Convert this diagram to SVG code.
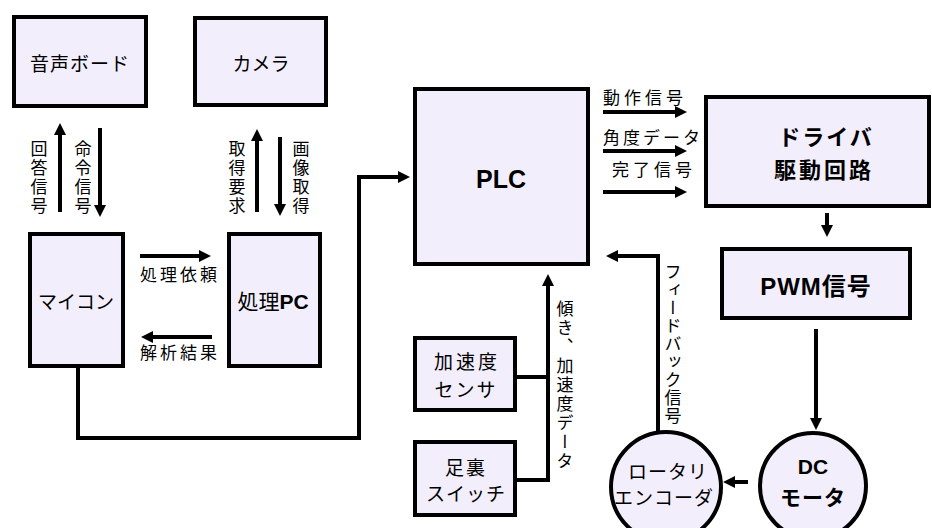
<svg xmlns="http://www.w3.org/2000/svg" width="932" height="528" viewBox="0 0 932 528">
<defs>
<marker id="ah" viewBox="0 0 12 12" markerWidth="12" markerHeight="12" refX="1" refY="6" orient="auto" markerUnits="userSpaceOnUse">
<path d="M0,0 L12,6 L0,12 z" fill="#000"/>
</marker>
<style>
.box{fill:#f2eefc;stroke:#000;stroke-width:4}
.t{font-family:"Liberation Sans","Noto Sans CJK JP",sans-serif;fill:#000;text-anchor:middle}
.b{font-weight:bold}
.lbl{font-family:"Noto Sans CJK JP",sans-serif;font-size:17px;fill:#000}
.v{writing-mode:vertical-rl;font-family:"Noto Sans CJK JP",sans-serif;font-size:17px;fill:#000}
.c{fill:none;stroke:#000;stroke-width:4}
.a{marker-end:url(#ah)}
</style>
</defs>
<rect width="932" height="528" fill="#fff"/>

<g id="onsei">
<rect class="box" x="14" y="17" width="132" height="89"/>
<text class="t" x="80" y="71" font-size="19" letter-spacing="1">音声ボード</text>
</g>
<g id="camera">
<rect class="box" x="195" y="18" width="131" height="87"/>
<text class="t" x="261" y="71" font-size="19">カメラ</text>
</g>
<g id="maicon">
<rect class="box" x="30" y="234" width="93" height="132"/>
<text class="t" x="76" y="309" font-size="19">マイコン</text>
</g>
<g id="shoripc">
<rect class="box" x="229" y="234" width="91" height="132"/>
<text class="t" x="273" y="309" font-size="21">処理<tspan class="b">PC</tspan></text>
</g>
<g id="plc">
<rect class="box" x="415" y="89" width="173" height="175"/>
<text class="t b" x="501" y="188" font-size="25">PLC</text>
</g>
<g id="driver">
<rect class="box" x="706" y="97" width="223" height="109"/>
<text class="t b" x="826" y="145" font-size="22" letter-spacing="2">ドライバ</text>
<text class="t b" x="824" y="178" font-size="22" letter-spacing="3">駆動回路</text>
</g>
<g id="pwm">
<rect class="box" x="722" y="249" width="188" height="69"/>
<text class="t b" x="816" y="295" font-size="24" letter-spacing="1">PWM信号</text>
</g>
<g id="accel">
<rect class="box" x="415" y="338" width="100" height="72"/>
<text class="t" x="467" y="369" font-size="19" letter-spacing="3">加速度</text>
<text class="t" x="466" y="397" font-size="19" letter-spacing="2">センサ</text>
</g>
<g id="ashiura">
<rect class="box" x="415" y="442" width="100" height="73"/>
<text class="t" x="466" y="475" font-size="19" letter-spacing="2">足裏</text>
<text class="t" x="466" y="501" font-size="19" letter-spacing="1">スイッチ</text>
</g>
<g id="encoder">
<circle class="box" cx="666" cy="487" r="55"/>
<text class="t" x="668" y="479" font-size="19" letter-spacing="1">ロータリ</text>
<text class="t" x="664" y="505" font-size="19" letter-spacing="1">エンコーダ</text>
</g>
<g id="dcmotor">
<circle class="box" cx="813" cy="486" r="53"/>
<text class="t b" x="813" y="474" font-size="21">DC</text>
<text class="t b" x="813" y="505" font-size="21" letter-spacing="1">モータ</text>
</g>

<g id="connectors">
<path class="c a" d="M60,212 V134"/>
<path class="c a" d="M100,128 V206"/>
<path class="c a" d="M257,212 V140"/>
<path class="c a" d="M280,137 V205"/>
<path class="c a" d="M140,256 H200"/>
<path class="c a" d="M212,337 H152"/>
<path class="c a" d="M78,366 V438 H359 V177 H399"/>
<path class="c a" d="M603,112 H676"/>
<path class="c a" d="M603,151 H676"/>
<path class="c a" d="M603,192 H676"/>
<path class="c a" d="M827,213 V226"/>
<path class="c a" d="M816,329 V419"/>
<path class="c a" d="M748,482 H734"/>
<path class="c a" d="M658,431 V256 H617"/>
<path class="c" d="M517,377 H548"/>
<path class="c a" d="M517,480 H548 V285"/>
</g>

<g id="labels">
<text class="v" x="39" y="140" letter-spacing="2">回答信号</text>
<text class="v" x="83" y="140" letter-spacing="2">命令信号</text>
<text class="v" x="237" y="140" letter-spacing="2">取得要求</text>
<text class="v" x="301" y="140" letter-spacing="2">画像取得</text>
<text class="lbl" x="140" y="281" letter-spacing="3">処理依頼</text>
<text class="lbl" x="140" y="359" letter-spacing="3">解析結果</text>
<text class="lbl" x="603" y="104" letter-spacing="4">動作信号</text>
<text class="lbl" x="603" y="144" letter-spacing="3">角度データ</text>
<text class="lbl" x="612" y="176" letter-spacing="4">完了信号</text>
<text class="v" x="673" y="263" font-size="16" letter-spacing="1">フィードバック信号</text>
<text class="v" x="565" y="300" font-size="16" letter-spacing="2">傾き、加速度データ</text>
</g>
</svg>
